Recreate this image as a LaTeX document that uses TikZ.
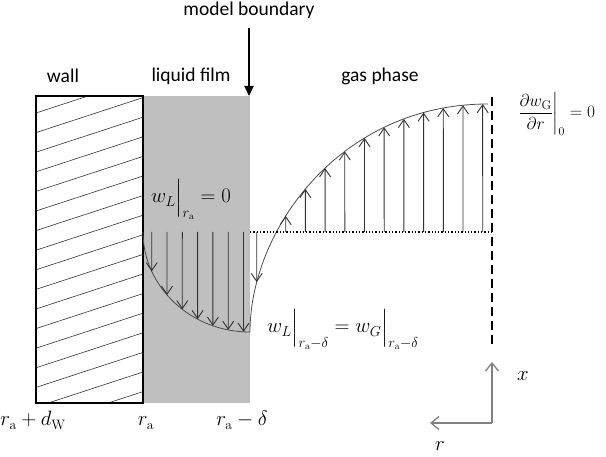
\documentclass[tikz,border=0pt]{standalone}
\usepackage{amsmath}
\usepackage{fontspec}
\newfontfamily\calibri{Carlito}
\usetikzlibrary{arrows.meta,intersections}

\begin{document}
\begin{tikzpicture}[x=1pt, y=-1pt, font=\fontsize{19.5}{23}\selectfont,
  vel/.style={draw=black!80, line width=0.9pt, -{Straight Barb[length=8pt,width=11pt]}},
  prof/.style={draw=black!70, line width=0.8pt},
  axis/.style={draw=black!50, line width=1.3pt, -{Straight Barb[length=8pt,width=13pt]}},
  lbl/.style={font=\fontsize{19.5}{23}\selectfont\calibri}]
\useasboundingbox (0,0) rectangle (606,457);
\fill[black!25] (143,96) rectangle (250,403);
\begin{scope}
\clip (36,96) rectangle (143,403);
\foreach \k in {-2,...,17}
  \draw[black!80, line width=0.6pt] (36,113+19.6*\k) -- (143,78+19.6*\k);
\end{scope}
\draw[line width=2pt] (36,96) rectangle (143,403);

\node[lbl] (wall) at (63,76) {wall};
\node[lbl] (film) at (191,76) {liquid film};
\node[lbl] (gasph) at (380,76) {gas phase};
\node[lbl] (mb) at (249,10) {model boundary};
\coordinate (fb) at (249,96);
\draw[line width=2.2pt, -{Triangle[length=10pt,width=9pt]}] (mb.south) ++(0,6) -- (fb);

\draw[prof, name path=liq] (143,232) .. controls (143,286) and (190,332) .. (250,332);
\draw[prof, name path=gas] (250,332) .. controls (250,230) and (340,104) .. (488,104);
\draw[dotted, line width=1.3pt] (250,232) -- (492,232);
\draw[line width=2.2pt, dash pattern=on 9pt off 5pt] (492,97) -- (492,347);

\foreach \i in {0,...,6}{
  \pgfmathsetmacro\x{151.7+15.3*\i}
  \path[name path=v] (\x,232) -- (\x,400);
  \draw[vel, name intersections={of=v and liq}] (\x,232) -- (intersection-1);
}
\path[name path=v] (256.7,232) -- (256.7,400);
\draw[vel, name intersections={of=v and gas}] (256.7,232) -- (intersection-1);
\foreach \i in {0,...,10}{
  \pgfmathsetmacro\x{285.7+19.7*\i}
  \path[name path=v] (\x,232) -- (\x,90);
  \draw[vel, name intersections={of=v and gas}] (\x,232) -- (intersection-1);
}

\node[anchor=base west, inner sep=1pt] (bcwall) at (150,203) {$w_L\Big|_{r_\mathrm{a}} = 0$};
\node[anchor=base west, inner sep=1pt] (bcint) at (266,333) {$w_L\Big|_{r_\mathrm{a}-\delta} = w_G\Big|_{r_\mathrm{a}-\delta}$};
\node[anchor=base west, inner sep=1pt, font=\fontsize{18}{21}\selectfont] (bcaxis) at (516,118)
  {$\left.\dfrac{\partial w_\mathrm{G}}{\partial r}\right|_0 = 0$};

\node[anchor=base] (rw) at (33,426) {$r_\mathrm{a}+d_\mathrm{W}$};
\node[anchor=base] (ra) at (146,426) {$r_\mathrm{a}$};
\node[anchor=base] (rd) at (242,426) {$r_\mathrm{a}-\delta$};

\coordinate (o) at (492,423);
\coordinate (xt) at (492,362);
\coordinate (rt) at (430,423);
\draw[axis] (o) -- (xt);
\draw[axis] (o) -- (rt);
\node[anchor=base, inner sep=1pt] (xl) at (523,381) {$x$};
\node[anchor=base, inner sep=1pt] (rl) at (440,451) {$r$};
\end{tikzpicture}
\end{document}
